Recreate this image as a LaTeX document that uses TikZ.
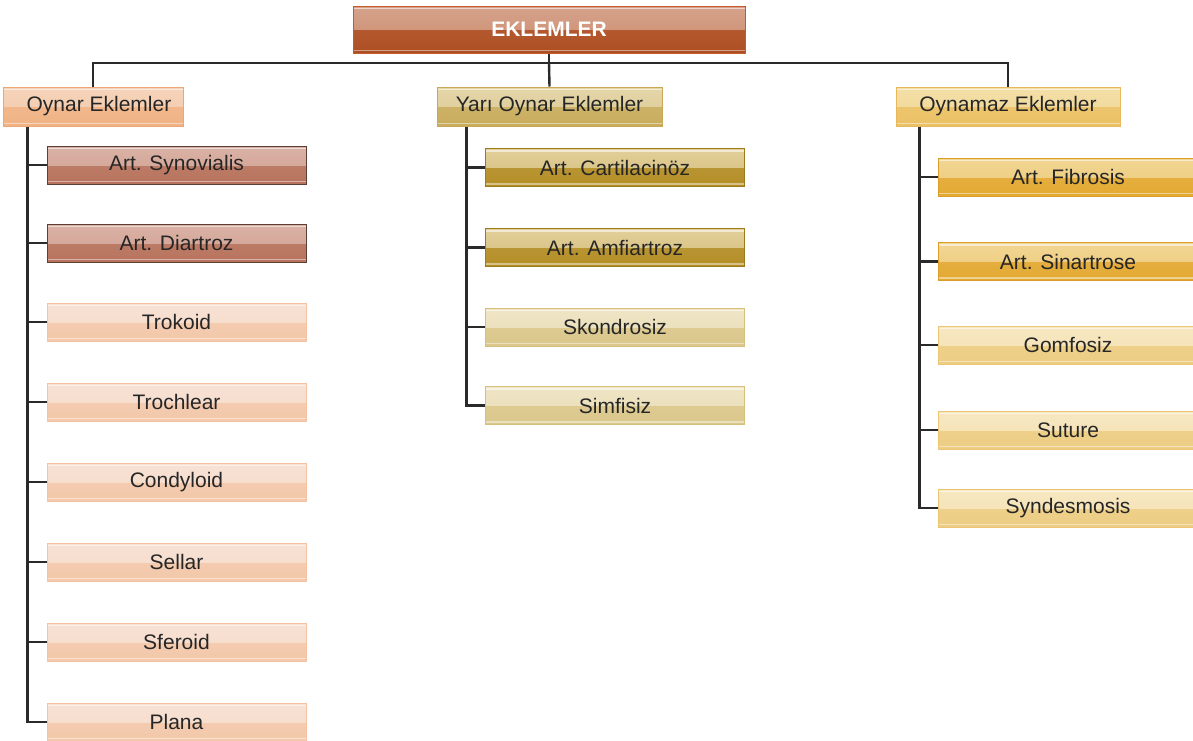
\documentclass[tikz,border=0pt]{standalone}
\usepackage{fontspec}
\setmainfont{Liberation Sans}
\usetikzlibrary{calc}

% palette: light (upper half), base (lower half), border
\definecolor{txt}{HTML}{262626}
\definecolor{rootA}{HTML}{D6A38C}\definecolor{rootB}{HTML}{AE4E22}\definecolor{rootD}{HTML}{C45A2A}
\definecolor{oA}{HTML}{F5D3BA}\definecolor{oB}{HTML}{F0B384}\definecolor{oD}{HTML}{F0A674}
\definecolor{odA}{HTML}{DAB2A6}\definecolor{odB}{HTML}{B8735D}\definecolor{odD}{HTML}{5E3F35}
\definecolor{olA}{HTML}{F7E2D5}\definecolor{olB}{HTML}{F3C8AA}\definecolor{olD}{HTML}{F5C3A3}
\definecolor{yA}{HTML}{E5D6A9}\definecolor{yB}{HTML}{C9AD5E}\definecolor{yD}{HTML}{C9A954}
\definecolor{ydA}{HTML}{E2D09B}\definecolor{ydB}{HTML}{B48E26}\definecolor{ydD}{HTML}{9C7B1A}
\definecolor{ylA}{HTML}{EFE5C6}\definecolor{ylB}{HTML}{DAC78B}\definecolor{ylD}{HTML}{D7C07C}
\definecolor{nA}{HTML}{F3DFA8}\definecolor{nB}{HTML}{EBC165}\definecolor{nD}{HTML}{E9B75C}
\definecolor{ndA}{HTML}{F1D694}\definecolor{ndB}{HTML}{E3A932}\definecolor{ndD}{HTML}{D99E2C}
\definecolor{nlA}{HTML}{F7E8C3}\definecolor{nlB}{HTML}{EDCD83}\definecolor{nlD}{HTML}{ECC677}
\definecolor{wire}{HTML}{2A2A2A}

\newcommand{\labelfont}{\fontsize{21pt}{24pt}\selectfont}

\tikzset{
  x=1pt, y=-1pt,
  gbox/.style n args={3}{draw=#3, line width=1pt, inner sep=0pt, text=txt,
    font=\labelfont, anchor=center,
    path picture={
      \shade[top color=#2!88!white, bottom color=#2]
        (path picture bounding box.west) rectangle (path picture bounding box.south east);
      \shade[top color=#1, bottom color=#1!85!#2]
        (path picture bounding box.north west) rectangle (path picture bounding box.east);
      \draw[white, opacity=0.55, line width=1.2pt]
        ([yshift=-2.5pt]path picture bounding box.north west) -- ([yshift=-2.5pt]path picture bounding box.north east);
      \draw[white, opacity=0.45, line width=1.2pt]
        ([yshift=2.5pt]path picture bounding box.south west) -- ([yshift=2.5pt]path picture bounding box.south east);
    }},
  rootbox/.style={gbox={rootA}{rootB}{rootD}, minimum width=392pt, minimum height=47pt,
    text=white, font=\labelfont\bfseries},
  headbox/.style={minimum height=39pt},
  leafbox/.style={minimum width=259pt, minimum height=38pt},
  conn/.style={draw=wire, line width=2.4pt},
}

\begin{document}
\begin{tikzpicture}
\useasboundingbox (0,0) rectangle (1193,740);
\clip (0,0) rectangle (1193,740);

% top-level bus
\coordinate (bus) at (549,63);

% root
\node[rootbox] (root) at (549,29.5) {EKLEMLER};

% group headers
\node[gbox={oA}{oB}{oD}, headbox, minimum width=180pt] (g1) at (93,106.5) {\hspace*{12pt}Oynar Eklemler};
\node[gbox={yA}{yB}{yD}, headbox, minimum width=225pt] (g2) at (549.5,106.5) {Yarı Oynar Eklemler};
\node[gbox={nA}{nB}{nD}, headbox, minimum width=224pt] (g3) at (1008,106.5) {Oynamaz Eklemler};

% Oynar Eklemler
\node[gbox={odA}{odB}{odD}, leafbox] (a1) at (176.5,165) {Art. Synovialis};
\node[gbox={odA}{odB}{odD}, leafbox] (a2) at (176.5,243) {Art. Diartroz};
\node[gbox={olA}{olB}{olD}, leafbox] (a3) at (176.5,322) {Trokoid};
\node[gbox={olA}{olB}{olD}, leafbox] (a4) at (176.5,402) {Trochlear};
\node[gbox={olA}{olB}{olD}, leafbox] (a5) at (176.5,482) {Condyloid};
\node[gbox={olA}{olB}{olD}, leafbox] (a6) at (176.5,562) {Sellar};
\node[gbox={olA}{olB}{olD}, leafbox] (a7) at (176.5,642) {Sferoid};
\node[gbox={olA}{olB}{olD}, leafbox] (a8) at (176.5,722) {Plana};

% Yarı Oynar Eklemler
\node[gbox={ydA}{ydB}{ydD}, leafbox] (b1) at (615,167.5) {Art. Cartilacinöz};
\node[gbox={ydA}{ydB}{ydD}, leafbox] (b2) at (615,247.5) {Art. Amfiartroz};
\node[gbox={ylA}{ylB}{ylD}, leafbox] (b3) at (615,327) {Skondrosiz};
\node[gbox={ylA}{ylB}{ylD}, leafbox] (b4) at (615,405.5) {Simfisiz};

% Oynamaz Eklemler
\node[gbox={ndA}{ndB}{ndD}, leafbox] (c1) at (1068,177) {Art. Fibrosis};
\node[gbox={ndA}{ndB}{ndD}, leafbox] (c2) at (1068,261.5) {Art. Sinartrose};
\node[gbox={nlA}{nlB}{nlD}, leafbox] (c3) at (1068,345) {Gomfosiz};
\node[gbox={nlA}{nlB}{nlD}, leafbox] (c4) at (1068,430) {Suture};
\node[gbox={nlA}{nlB}{nlD}, leafbox] (c5) at (1068,508) {Syndesmosis};

% wires from the root to the three groups
\draw[conn] (root.south) -- (bus);
\draw[conn] (g1.north) |- (bus) -| (g3.north);
\draw[conn] (bus) -- (g2.north);

% spines
\coordinate (s1) at ([xshift=25pt]g1.south west);
\coordinate (s2) at ([xshift=30pt]g2.south west);
\coordinate (s3) at ([xshift=24pt]g3.south west);

\draw[conn] (s1) |- (a8.west);
\foreach \n in {a1,a2,a3,a4,a5,a6,a7}
  \draw[conn] (s1 |- \n.west) -- (\n.west);

\draw[conn] (s2) |- (b4.west);
\foreach \n in {b1,b2,b3}
  \draw[conn] (s2 |- \n.west) -- (\n.west);

\draw[conn] (s3) |- (c5.west);
\foreach \n in {c1,c2,c3,c4}
  \draw[conn] (s3 |- \n.west) -- (\n.west);
\end{tikzpicture}
\end{document}
